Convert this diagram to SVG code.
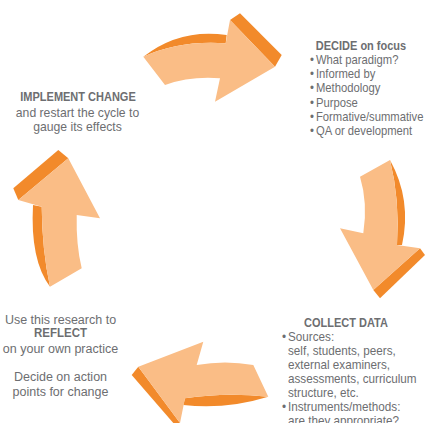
<svg xmlns="http://www.w3.org/2000/svg" width="425" height="423" viewBox="0 0 425 423">
<style>
.lt{fill:#FABD86}
.dk{fill:#F28A2B}
text{font-family:"Liberation Sans",Arial,sans-serif;font-size:12.5px;fill:#6D6E71}
.b{font-weight:bold}
.c{text-anchor:middle}
</style>
<rect width="425" height="423" fill="#fff"/>
<g id="connectors">
<g id="arrow-top">
<path class="dk" d="M143.3,56.7 Q180,28 226.7,35 L225.7,43.3 Q180,40 143.3,56.7 Z"/>
<path class="dk" d="M230,20 L240,13.3 L281.7,55 L275,66.7 Z"/>
<path class="lt" d="M143.3,56.7 Q180,40 225.7,43.3 L230,20 L275,66.7 L215,101.7 L220,78.3 Q190,76 165,85 Z"/>
</g>
<g id="arrow-right">
<path class="dk" d="M390,160 Q412,200 402,245 L397,245 Q400,200 390,160 Z"/>
<path class="dk" d="M420,248.3 L425,255 L380,298.3 L373.3,290 Z"/>
<path class="lt" d="M360,176.7 L390,160 Q400,200 397,245 L420,248.3 L373.3,290 L340,228.3 L363.3,233.3 Q368,203 360,176.7 Z"/>
</g>
<g id="arrow-bottom">
<path class="dk" d="M268.3,396.7 Q225,410 183.3,405 L185,398.3 Q225,392 268.3,396.7 Z"/>
<path class="dk" d="M138.3,366.7 L131.7,375 L173.3,423 L180,423 Z"/>
<path class="lt" d="M253.3,365 L268.3,396.7 Q225,392 185,398.3 L180,423 L138.3,366.7 L203.3,341.7 L196.7,365 Q225,360 253.3,365 Z"/>
</g>
<g id="arrow-left">
<path class="dk" d="M13.3,188.3 L58.3,150 L68.3,158.3 L18.3,200 Z"/>
<path class="dk" d="M33,205 Q30,260 50,286.7 Q42,250 41.7,206.7 Z"/>
<path class="lt" d="M68.3,158.3 L100,218.3 L76.7,215 Q76,245 81.7,268.3 L50,286.7 Q42,250 41.7,206.7 L18.3,200 Z"/>
</g>
</g>
<g id="decide">
<text class="b c" transform="translate(361,50) scale(0.88,1)">DECIDE on focus</text>
<text transform="translate(310,64) scale(0.9,1)">•</text><text transform="translate(316,64) scale(0.9,1)">What paradigm?</text>
<text transform="translate(310,78.2) scale(0.9,1)">•</text><text transform="translate(316,78.2) scale(0.9,1)">Informed by</text>
<text transform="translate(310,92.4) scale(0.9,1)">•</text><text transform="translate(316,92.4) scale(0.9,1)">Methodology</text>
<text transform="translate(310,106.6) scale(0.9,1)">•</text><text transform="translate(316,106.6) scale(0.9,1)">Purpose</text>
<text transform="translate(310,120.8) scale(0.9,1)">•</text><text transform="translate(316,120.8) scale(0.9,1)">Formative/summative</text>
<text transform="translate(310,135) scale(0.9,1)">•</text><text transform="translate(316,135) scale(0.9,1)">QA or development</text>
</g>
<g id="collect">
<text class="b c" transform="translate(346,326.5) scale(0.88,1)">COLLECT DATA</text>
<text transform="translate(282,340.5) scale(0.936,1)">•</text><text transform="translate(288,340.5) scale(0.936,1)">Sources:</text>
<text transform="translate(288,354.6) scale(0.936,1)">self, students, peers,</text>
<text transform="translate(288,368.7) scale(0.936,1)">external examiners,</text>
<text transform="translate(288,382.8) scale(0.936,1)">assessments, curriculum</text>
<text transform="translate(288,396.9) scale(0.936,1)">structure, etc.</text>
<text transform="translate(282,411) scale(0.936,1)">•</text><text transform="translate(288,411) scale(0.936,1)">Instruments/methods:</text>
<text transform="translate(288,425.1) scale(0.936,1)">are they appropriate?</text>
</g>
<g id="reflect">
<text class="c" transform="translate(60.5,324) scale(1.0,1)">Use this research to</text>
<text class="b c" transform="translate(60.5,337) scale(0.92,1)">REFLECT</text>
<text class="c" transform="translate(60.5,353) scale(1.0,1)">on your own practice</text>
<text class="c" transform="translate(60.5,380.5) scale(1.0,1)">Decide on action</text>
<text class="c" transform="translate(60.5,395.5) scale(1.0,1)">points for change</text>
</g>
<g id="implement">
<text class="b c" transform="translate(78,101) scale(0.88,1)">IMPLEMENT CHANGE</text>
<text class="c" transform="translate(77.5,117) scale(0.976,1)">and restart the cycle to</text>
<text class="c" transform="translate(77.5,131) scale(0.976,1)">gauge its effects</text>
</g>
</svg>
